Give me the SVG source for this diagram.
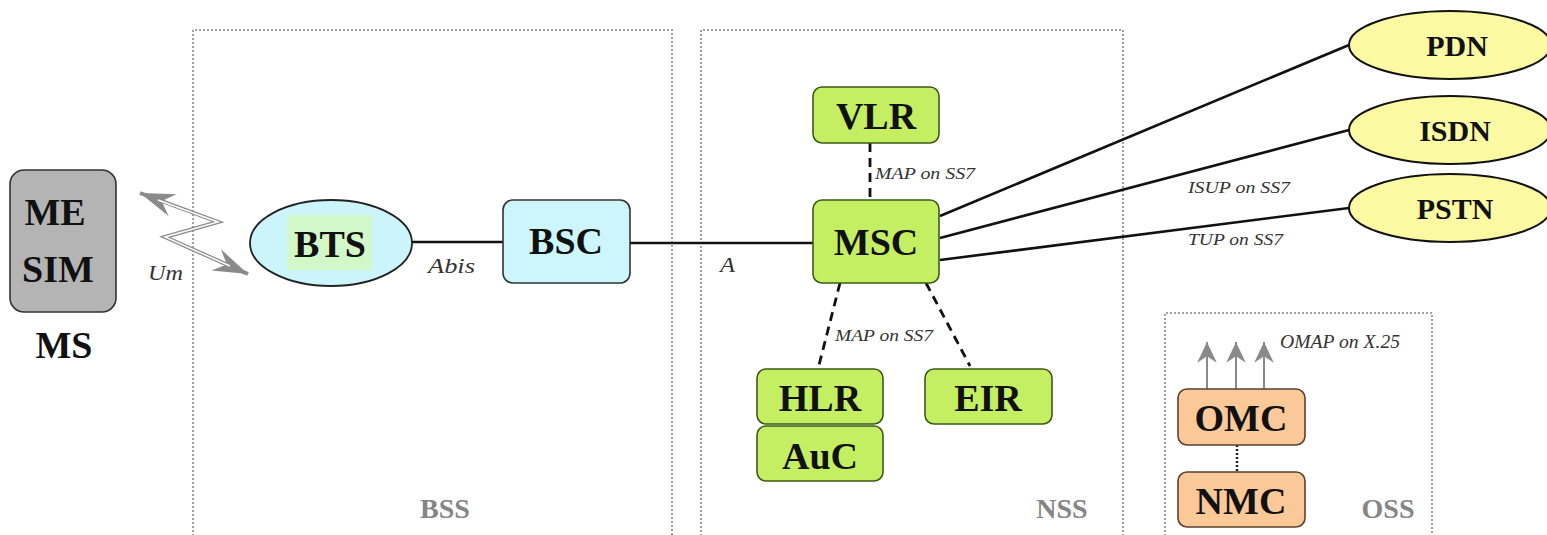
<svg xmlns="http://www.w3.org/2000/svg" width="1547" height="535" viewBox="0 0 1547 535">
<style>
.area{fill:none;stroke:#a0a0a0;stroke-width:2;stroke-dasharray:2 2}
.bold{font-family:"Liberation Serif","Times New Roman",serif;font-weight:bold;font-size:38px;fill:#111;text-anchor:middle}
.ell{font-family:"Liberation Serif","Times New Roman",serif;font-weight:bold;font-size:30px;fill:#111;text-anchor:middle}
.area-lbl{font-family:"Liberation Serif","Times New Roman",serif;font-weight:bold;font-size:28px;fill:#858585;text-anchor:middle}
.it{font-family:"Liberation Serif","Times New Roman",serif;font-style:italic;fill:#333}
.green{fill:#c5ef62;stroke:#3c5a18;stroke-width:1.6}
.cyan{fill:#ccf6fb;stroke:#333;stroke-width:1.6}
.peach{fill:#fbc897;stroke:#5a4030;stroke-width:1.6}
.yellow{fill:#fbf9a2;stroke:#111;stroke-width:2}
.solid{fill:none;stroke:#111;stroke-width:2.6}
.dash{fill:none;stroke:#111;stroke-width:2.8;stroke-dasharray:9 6}
.dot{fill:none;stroke:#222;stroke-width:2.5;stroke-dasharray:2 2}
.grayarrow{fill:none;stroke:#8a8a8a;stroke-width:2}
</style>
<defs>
<marker id="gh" markerUnits="userSpaceOnUse" markerWidth="40" markerHeight="40" viewBox="-34 -14 38 28" refX="0" refY="0" orient="auto-start-reverse">
<path d="M0,0 L-33,-11 L-22,0 L-33,11 Z" fill="#8a8a8a"/>
</marker>
<marker id="uh" markerUnits="userSpaceOnUse" markerWidth="24" markerHeight="24" viewBox="-20 -11 22 22" refX="0" refY="0" orient="auto">
<path d="M0,0 L-19,-9 L-13,0 L-19,9 Z" fill="#8a8a8a"/>
</marker>
</defs>

<g id="areas">
<path class="area" d="M193,540 V30 H672 V540"/>
<path class="area" d="M701,540 V30 H1123 V540"/>
<path class="area" d="M1165,540 V313 H1432 V540"/>
<text class="area-lbl" x="445" y="518">BSS</text>
<text class="area-lbl" x="1062" y="518">NSS</text>
<text class="area-lbl" x="1388" y="518">OSS</text>
</g>

<g id="connectors">
<polyline points="140,193 218,222 165,237 248,274" fill="none" stroke="#8a8a8a" stroke-width="4" marker-start="url(#gh)" marker-end="url(#gh)"/>
<polyline points="158,200 218,222 165,237 230,266" fill="none" stroke="#fff" stroke-width="1.5"/>
<line class="solid" x1="412" y1="242" x2="503" y2="242"/>
<line class="solid" x1="630" y1="243" x2="813" y2="243"/>
<line class="dash" x1="870" y1="143" x2="870" y2="200"/>
<line class="dash" x1="840" y1="283" x2="818" y2="369"/>
<line class="dash" x1="926" y1="283" x2="970" y2="366"/>
<line class="solid" x1="940" y1="216" x2="1349" y2="45"/>
<line class="solid" x1="940" y1="238" x2="1349" y2="130"/>
<line class="solid" x1="940" y1="260" x2="1349" y2="208"/>
<line class="dot" x1="1237" y1="445" x2="1237" y2="472"/>
<line class="grayarrow" x1="1207" y1="389" x2="1207" y2="342" marker-end="url(#uh)"/>
<line class="grayarrow" x1="1236" y1="389" x2="1236" y2="342" marker-end="url(#uh)"/>
<line class="grayarrow" x1="1264" y1="389" x2="1264" y2="342" marker-end="url(#uh)"/>
<text class="it" x="148" y="280" font-size="20" textLength="35" lengthAdjust="spacingAndGlyphs">Um</text>
<text class="it" x="428" y="273" font-size="20" textLength="47" lengthAdjust="spacingAndGlyphs">Abis</text>
<text class="it" x="720" y="272" font-size="20" textLength="15" lengthAdjust="spacingAndGlyphs">A</text>
<text class="it" x="875" y="179" font-size="16" textLength="100" lengthAdjust="spacingAndGlyphs">MAP on SS7</text>
<text class="it" x="835" y="341" font-size="16" textLength="98" lengthAdjust="spacingAndGlyphs">MAP on SS7</text>
<text class="it" x="1188" y="193" font-size="17" textLength="102" lengthAdjust="spacingAndGlyphs">ISUP on SS7</text>
<text class="it" x="1188" y="245" font-size="17" textLength="95" lengthAdjust="spacingAndGlyphs">TUP on SS7</text>
<text class="it" x="1280" y="348" font-size="18" textLength="120" lengthAdjust="spacingAndGlyphs">OMAP on X.25</text>
</g>

<g id="MS">
<rect x="10" y="170" width="106" height="142" rx="14" fill="#b4b4b4" stroke="#333" stroke-width="1.6"/>
<text class="bold" x="55" y="225" font-size="37">ME</text>
<text class="bold" x="58" y="282" font-size="37">SIM</text>
<text class="bold" x="64" y="358">MS</text>
</g>

<g id="BTS">
<ellipse cx="331" cy="243" rx="81" ry="43" fill="#ccf5fb" stroke="#222" stroke-width="1.8"/>
<rect x="287" y="215" width="85" height="55" fill="#d2f7c8"/>
<text class="bold" x="330" y="257">BTS</text>
</g>

<g id="BSC">
<rect class="cyan" x="503" y="200" width="127" height="83" rx="10"/>
<text class="bold" x="566" y="254">BSC</text>
</g>

<g id="VLR">
<rect class="green" x="813" y="87" width="126" height="56" rx="9"/>
<text class="bold" x="876" y="129">VLR</text>
</g>

<g id="MSC">
<rect class="green" x="813" y="200" width="126" height="83" rx="9"/>
<text class="bold" x="876" y="255">MSC</text>
</g>

<g id="HLR">
<rect class="green" x="757" y="369" width="126" height="55" rx="9"/>
<text class="bold" x="820" y="411">HLR</text>
</g>

<g id="AuC">
<rect class="green" x="757" y="426" width="126" height="55" rx="9"/>
<text class="bold" x="820" y="469">AuC</text>
</g>

<g id="EIR">
<rect class="green" x="925" y="369" width="127" height="55" rx="9"/>
<text class="bold" x="988" y="411">EIR</text>
</g>

<g id="PDN">
<ellipse class="yellow" cx="1450" cy="45" rx="101" ry="34"/>
<text class="ell" x="1457" y="56">PDN</text>
</g>

<g id="ISDN">
<ellipse class="yellow" cx="1450" cy="130" rx="101" ry="34"/>
<text class="ell" x="1455" y="141">ISDN</text>
</g>

<g id="PSTN">
<ellipse class="yellow" cx="1450" cy="208" rx="101" ry="34"/>
<text class="ell" x="1455" y="219">PSTN</text>
</g>

<g id="OMC">
<rect class="peach" x="1178" y="389" width="127" height="56" rx="9"/>
<text class="bold" x="1241" y="431">OMC</text>
</g>

<g id="NMC">
<rect class="peach" x="1178" y="472" width="127" height="55" rx="9"/>
<text class="bold" x="1241" y="514">NMC</text>
</g>
</svg>
